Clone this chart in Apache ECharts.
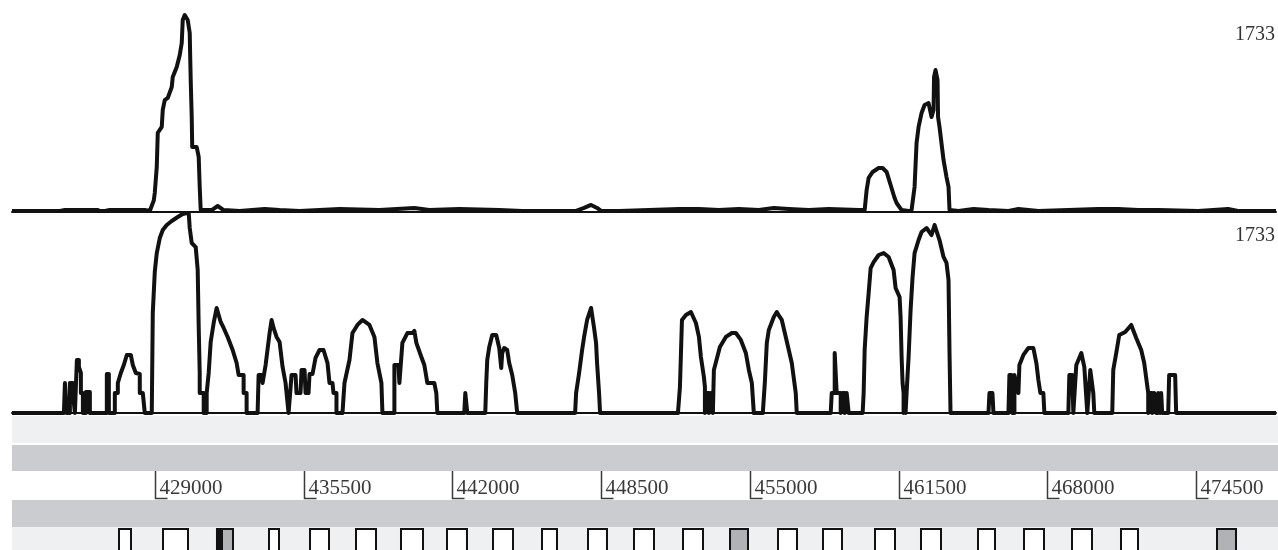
<!DOCTYPE html>
<html>
<head>
<meta charset="utf-8">
<script src="https://cdn.jsdelivr.net/npm/echarts@6/dist/echarts.min.js"></script>
<style>
  html, body { margin: 0; padding: 0; background: #fff; }
  #chart { width: 1278px; height: 550px; }
</style>
</head>
<body>
<div id="chart"></div>
<script>
// Genomic window shown (bp) and coverage scale maximum
const regionStart = 422751;
const regionEnd = 478075;
const trackMax = 1733;

// Coordinate ruler ticks (bp)
const tickPositions = [429000, 435500, 442000, 448500, 455000, 461500, 468000, 474500];

// Upper coverage track: [position (bp), depth]
const upperTrack = [
  [422751, 9], [424849, 9], [425067, 17], [426509, 17], [426597, 9], [426815, 9], [427034, 17],
  [428563, 17], [428782, 9], [428869, 17], [428956, 100], [429000, 165], [429087, 390], [429131, 685],
  [429306, 737], [429350, 884], [429437, 970], [429568, 988], [429743, 1083], [429787, 1170],
  [429961, 1256], [430093, 1360], [430180, 1464], [430224, 1664], [430311, 1707], [430442, 1664],
  [430530, 1551], [430551, 1343], [430573, 1144], [430617, 823], [430639, 563], [430835, 563],
  [430923, 477], [430967, 217], [431010, 17], [431185, 17], [431491, 17], [431753, 52], [432015, 17],
  [432715, 9], [433807, 26], [434463, 17], [435337, 9], [437085, 26], [438833, 17], [440362, 35],
  [441018, 17], [442329, 26], [444077, 17], [445082, 9], [445825, 9], [447441, 9], [447791, 35],
  [448097, 61], [448359, 35], [448534, 9], [449321, 9], [451943, 26], [452817, 26], [453691, 17],
  [454565, 26], [455439, 17], [456094, 35], [456750, 26], [457624, 17], [458498, 26], [459809, 17],
  [460071, 17], [460158, 191], [460246, 295], [460420, 347], [460683, 381], [460857, 381],
  [461032, 347], [461207, 234], [461382, 121], [461469, 78], [461688, 17], [461994, 9], [462125, 17],
  [462256, 217], [462343, 598], [462431, 737], [462562, 858], [462693, 927], [462868, 944],
  [462999, 823], [463086, 884], [463108, 1170], [463174, 1230], [463261, 1144], [463283, 823],
  [463348, 737], [463523, 451], [463654, 303], [463742, 217], [463785, 17], [464179, 9], [464834, 26],
  [465490, 17], [466364, 9], [466801, 26], [467675, 9], [468986, 17], [470297, 26], [471171, 26],
  [472045, 17], [472919, 17], [474667, 9], [475978, 26], [476415, 9], [478075, 9]
];

// Lower coverage track: [position (bp), depth]
const lowerTrack = [
  [422751, 0],
  [425023, 0], [425067, 260], [425154, 260], [425154, 0], [425285, 0], [425285, 260], [425417, 260],
  [425417, 173], [425504, 173], [425504, 0], [425548, 0], [425591, 459], [425679, 459], [425679, 399],
  [425766, 347], [425766, 173], [425854, 173], [425854, 0], [425985, 0], [425985, 182], [426159, 182],
  [426159, 0],
  [426902, 0], [426902, 338], [426990, 338], [426990, 0], [427252, 0], [427252, 173], [427383, 173],
  [427383, 260], [427514, 347], [427645, 416], [427776, 503], [427951, 503], [428039, 416],
  [428170, 347], [428213, 338], [428344, 338], [428344, 173], [428476, 173], [428563, 0],
  [428869, 0], [428913, 867], [429000, 1222], [429087, 1386], [429219, 1516], [429350, 1586],
  [429524, 1629], [429743, 1664], [430005, 1698], [430224, 1724], [430398, 1733], [430486, 1733],
  [430530, 1603], [430617, 1473], [430661, 1482], [430792, 1438], [430879, 1239], [430923, 745],
  [430967, 347], [430967, 173], [431141, 173], [431141, 0],
  [431272, 0], [431272, 173], [431360, 347], [431447, 615], [431578, 780], [431709, 910],
  [431797, 849], [431884, 789], [432015, 737], [432190, 659], [432409, 546], [432583, 433],
  [432671, 329], [432889, 329], [432889, 173], [433020, 173], [433020, 0],
  [433501, 0], [433545, 329], [433676, 329], [433720, 260], [433851, 416], [434026, 693],
  [434113, 806], [434200, 737], [434331, 659], [434463, 615], [434594, 399], [434725, 260],
  [434768, 173], [434856, 0], [434943, 0], [434987, 329], [435162, 329], [435205, 173], [435380, 173],
  [435424, 373], [435555, 373], [435599, 173], [435730, 173], [435774, 338], [435905, 338],
  [436036, 477], [436211, 546], [436385, 546], [436560, 433], [436648, 260], [436779, 260],
  [436822, 173], [436953, 173], [436953, 0],
  [437216, 0], [437303, 260], [437522, 459], [437653, 693], [437871, 763], [438090, 806],
  [438177, 806], [438396, 763], [438614, 659], [438745, 433], [438920, 260], [438964, 0],
  [439488, 0], [439488, 416], [439663, 416], [439707, 260], [439838, 607], [440056, 693],
  [440275, 693], [440362, 711], [440449, 607], [440668, 485], [440799, 416], [440930, 260],
  [441236, 260], [441323, 173], [441367, 0],
  [442547, 0], [442591, 173], [442678, 173], [442678, 0],
  [443465, 0], [443508, 260], [443552, 459], [443640, 572], [443771, 676], [443945, 676],
  [444077, 563], [444164, 390], [444208, 520], [444295, 563], [444426, 546], [444514, 433],
  [444645, 329], [444776, 173], [444863, 0],
  [447398, 0], [447441, 173], [447573, 347], [447704, 546], [447791, 659], [447922, 806],
  [448097, 910], [448228, 737], [448315, 607], [448359, 433], [448447, 173], [448490, 0],
  [451899, 0], [451986, 225], [452074, 806], [452248, 849], [452467, 875], [452685, 780],
  [452817, 659], [452904, 485], [453035, 312], [453079, 225], [453079, 0], [453166, 0],
  [453166, 173], [453254, 173], [453254, 0], [453341, 0], [453341, 173], [453428, 173],
  [453428, 0], [453472, 0], [453472, 373], [453734, 572], [453996, 659],
  [454259, 693], [454433, 693], [454652, 633], [454870, 520], [455002, 373], [455133, 260],
  [455220, 0],
  [455613, 0], [455701, 260], [455788, 607], [455876, 719], [456094, 832], [456225, 875],
  [456356, 832], [456444, 806], [456618, 659], [456750, 546], [456881, 433], [457055, 173],
  [457099, 0],
  [458585, 0], [458629, 173], [458760, 173], [458760, 520], [458847, 520], [458847, 173],
  [459022, 173], [459022, 0], [459109, 0], [459109, 173], [459197, 173], [459197, 0],
  [459284, 0], [459284, 173], [459328, 173], [459372, 0],
  [459983, 0], [460027, 173], [460071, 546], [460158, 832], [460246, 1040], [460333, 1256],
  [460464, 1308], [460683, 1369], [460901, 1386], [461120, 1352], [461338, 1239], [461425, 1083],
  [461600, 1005], [461644, 832], [461688, 485], [461731, 260], [461775, 173], [461775, 0],
  [461819, 0], [461819, 173], [461862, 173], [461862, 0], [461906, 0], [461906, 173], [461950, 173],
  [461994, 485], [462081, 892], [462168, 1178], [462256, 1386], [462431, 1499], [462562, 1568],
  [462780, 1603], [462999, 1542], [463130, 1629], [463348, 1499], [463523, 1352], [463654, 1300],
  [463742, 1152], [463785, 520], [463829, 0],
  [465490, 0], [465533, 173], [465664, 173], [465708, 0],
  [466364, 0], [466407, 329], [466495, 329], [466538, 0], [466626, 0], [466626, 329], [466713, 329],
  [466801, 173], [466844, 416], [467019, 503], [467238, 563], [467456, 563], [467587, 433],
  [467675, 286], [467762, 173], [467893, 173], [467937, 0],
  [468986, 0], [469029, 329], [469160, 329], [469204, 0], [469291, 0], [469335, 416], [469554, 520],
  [469685, 399], [469772, 399], [469816, 0], [469903, 0], [469947, 373], [470034, 373], [470078, 173],
  [470122, 0],
  [470908, 0], [470952, 373], [471083, 520], [471214, 676], [471476, 702], [471739, 763],
  [471957, 650], [472176, 546], [472307, 433], [472482, 173], [472482, 0], [472569, 0],
  [472569, 173], [472657, 173], [472657, 0], [472744, 0], [472744, 173], [472831, 173],
  [472831, 0], [472919, 0], [472919, 173], [473006, 173], [473006, 0], [473050, 0],
  [473050, 173], [473093, 0],
  [473356, 0], [473399, 329], [473661, 329], [473705, 0],
  [478075, 0]
];

// Annotated features: [start, end, style] (0 = open, 1 = shaded, 2 = solid)
const features = [
  [427427, 427951, 0], [429350, 430442, 0], [431709, 432409, 1], [431709, 431928, 2],
  [433982, 434419, 0], [435774, 436604, 0], [437784, 438658, 0], [439750, 440712, 0],
  [441760, 442634, 0], [443771, 444645, 0], [445912, 446567, 0], [447922, 448752, 0],
  [449932, 450806, 0], [452074, 452948, 0], [454128, 454914, 1], [456225, 457055, 0],
  [458192, 459022, 0], [460464, 461338, 0], [462474, 463348, 0], [464965, 465708, 0],
  [466975, 467849, 0], [469073, 469947, 0], [471214, 471957, 0], [475409, 476240, 1]
];

const featureFills = ['#ffffff', '#b1b2b5', '#111111'];
const ink = '#111111';
const serif = '"Liberation Serif", "DejaVu Serif", serif';

const chart = echarts.init(document.getElementById('chart'), null, { renderer: 'canvas' });

const grids = [
  { left: 12, right: 0, top: 12, height: 200 },
  { left: 12, right: 0, top: 213, height: 200 },
  { left: 12, right: 0, top: 471, height: 29 },
  { left: 12, right: 0, top: 528, height: 22 }
];

const xAxes = grids.map((g, i) => ({
  gridIndex: i,
  type: 'value',
  min: regionStart,
  max: regionEnd,
  show: i < 2,
  axisLine: { show: true, onZero: false, lineStyle: { color: ink, width: 2 } },
  axisTick: { show: false },
  axisLabel: { show: false },
  splitLine: { show: false }
}));

const trackAxis = (i) => ({
  gridIndex: i,
  type: 'value',
  min: 0,
  max: trackMax,
  interval: trackMax,
  position: 'right',
  axisLine: { show: false },
  axisTick: { show: false },
  splitLine: { show: false },
  axisLabel: {
    inside: true,
    margin: 1,
    showMinLabel: false,
    showMaxLabel: true,
    formatter: (v) => (v === trackMax ? String(trackMax) : ''),
    verticalAlign: 'top',
    padding: [13, 0, 0, 0],
    lineHeight: 20,
    fontFamily: serif,
    fontSize: 20,
    color: '#333333'
  }
});

const yAxes = [
  trackAxis(0),
  trackAxis(1),
  { gridIndex: 2, type: 'value', min: 0, max: 1, show: false },
  { gridIndex: 3, type: 'value', min: 0, max: 2, show: false }
];

const band = (y, h, fill) => ({
  type: 'rect', z: 0, silent: true,
  shape: { x: 12, y: y, width: 1266, height: h },
  style: { fill: fill }
});

const option = {
  animation: false,
  backgroundColor: '#ffffff',
  grid: grids,
  xAxis: xAxes,
  yAxis: yAxes,
  graphic: [
    band(416, 27, '#eff0f2'),
    band(445, 26, '#cbccd0'),
    band(500, 27, '#cbccd0'),
    band(527, 23, '#eff0f2')
  ],
  series: [
    {
      type: 'line', xAxisIndex: 0, yAxisIndex: 0, data: upperTrack,
      showSymbol: false, clip: false, z: 4,
      lineStyle: { color: ink, width: 4, join: 'round' }
    },
    {
      type: 'line', xAxisIndex: 1, yAxisIndex: 1, data: lowerTrack,
      showSymbol: false, clip: false, z: 3,
      lineStyle: { color: ink, width: 4, join: 'round' }
    },
    {
      type: 'custom', xAxisIndex: 2, yAxisIndex: 2,
      data: tickPositions.map((p) => [p, 0]),
      encode: { x: 0, y: 1 },
      renderItem: (params, api) => {
        const x = Math.round(api.coord([api.value(0), 0])[0]) + 0.5;
        const cs = params.coordSys;
        const foot = cs.y + cs.height - 1.5;
        return {
          type: 'group',
          children: [
            {
              type: 'polyline',
              shape: { points: [[x, cs.y], [x, foot], [x + 12, foot]] },
              style: { stroke: '#3a3a3a', lineWidth: 1.5, fill: null }
            },
            {
              type: 'text',
              style: {
                text: String(api.value(0)),
                x: x + 4,
                y: cs.y + cs.height / 2 + 2.5,
                align: 'left',
                verticalAlign: 'middle',
                font: '21px ' + serif,
                fill: '#3a3a3a'
              }
            }
          ]
        };
      }
    },
    {
      type: 'custom', xAxisIndex: 3, yAxisIndex: 3,
      data: features,
      encode: { x: [0, 1], y: 2 },
      renderItem: (params, api) => {
        const x0 = api.coord([api.value(0), 0])[0];
        const x1 = api.coord([api.value(1), 0])[0];
        const cs = params.coordSys;
        return {
          type: 'rect',
          shape: { x: x0, y: cs.y + 1, width: x1 - x0, height: 40 },
          style: { fill: featureFills[api.value(2)], stroke: ink, lineWidth: 2 }
        };
      }
    }
  ]
};

chart.setOption(option);
</script>
</body>
</html>
